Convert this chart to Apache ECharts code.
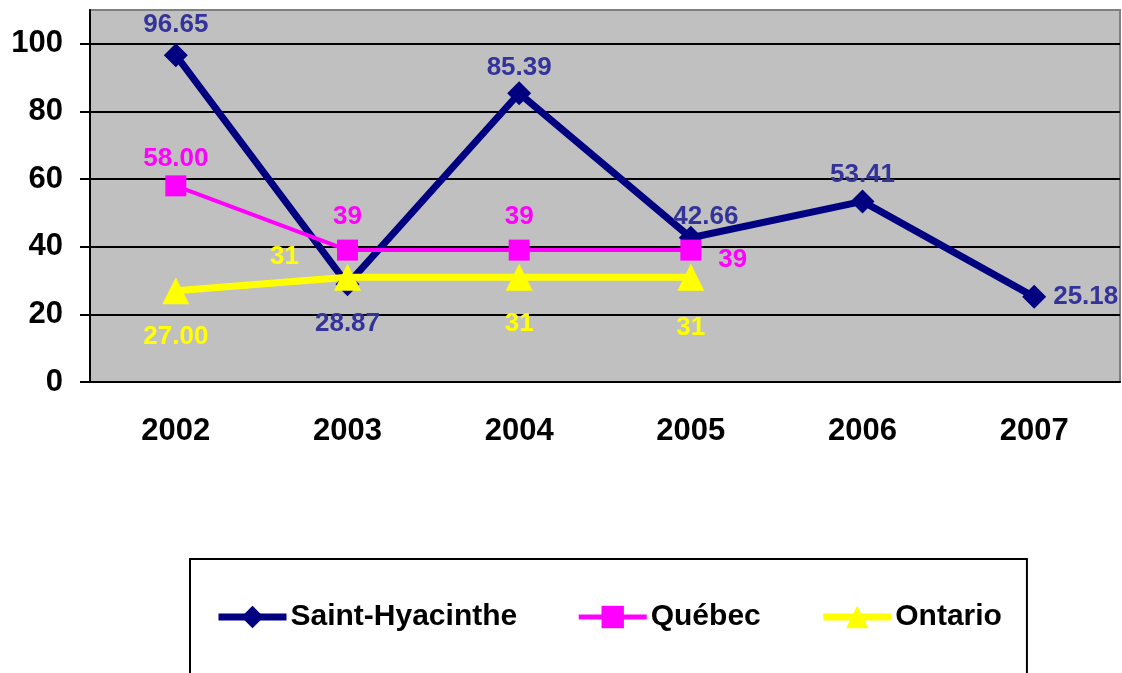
<!DOCTYPE html>
<html>
<head>
<meta charset="utf-8">
<script src="https://cdn.jsdelivr.net/npm/echarts@6/dist/echarts.min.js"></script>
<style>
html,body{margin:0;padding:0;background:#fff;}
#chart{width:1122px;height:673px;}
</style>
</head>
<body>
<div id="chart"></div>
<script>
const categories = ['2002', '2003', '2004', '2005', '2006', '2007'];
const stHyacintheValues = [96.65, 28.87, 85.39, 42.66, 53.41, 25.18];
const stHyacintheLabels = ['96.65', '28.87', '85.39', '42.66', '53.41', '25.18'];
const quebecValues = [58.00, 39, 39, 39];
const quebecLabels = ['58.00', '39', '39', '39'];
const ontarioValues = [27.00, 31, 31, 31];
const ontarioLabels = ['27.00', '31', '31', '31'];
const yTicks = [0, 20, 40, 60, 80, 100];

const FONT = "'Liberation Sans', Arial, sans-serif";

// label placement (layout only)
const stPlace = [
  {position: 'top', distance: 5},
  {position: 'bottom', distance: 14},
  {position: 'top', distance: 0},
  {position: 'top', distance: 0, offset: [15, 4]},
  {position: 'top', distance: 2},
  {position: 'right', distance: 7}
];
const qPlace = [
  {position: 'top', distance: 4},
  {position: 'top', distance: 10},
  {position: 'top', distance: 10},
  {position: 'right', distance: 17, offset: [0, 10]}
];
const oPlace = [
  {position: 'bottom', distance: 20},
  {position: 'left', distance: 5, offset: [-30, -20]},
  {position: 'bottom', distance: 20},
  {position: 'bottom', distance: 24}
];

function build(values, labels, place) {
  return values.map((v, i) => ({
    value: v,
    label: Object.assign({formatter: labels[i]}, place[i])
  }));
}

const chart = echarts.init(document.getElementById('chart'), null, {renderer: 'canvas'});

const labelBase = {show: true, fontFamily: FONT, fontWeight: 'bold', fontSize: 26};

chart.setOption({
  backgroundColor: '#ffffff',
  animation: false,
  grid: {
    left: 90, right: 2, top: 10, bottom: 291,
    show: true, backgroundColor: '#C0C0C0', borderColor: '#808080', borderWidth: 2
  },
  legend: {
    left: 190, top: 559,
    padding: [43, 25, 80, 25],
    itemGap: 59,
    itemWidth: 68, itemHeight: 28,
    borderColor: '#000', borderWidth: 2,
    textStyle: {fontFamily: FONT, fontWeight: 'bold', fontSize: 30, color: '#000', padding: [0, 0, 0, -1]},
    data: [
      {name: 'Saint-Hyacinthe', lineStyle: {width: 7}},
      {name: 'Québec', lineStyle: {width: 5}},
      {name: 'Ontario', lineStyle: {width: 7}}
    ]
  },
  xAxis: {
    type: 'category',
    data: categories,
    boundaryGap: true,
    axisLine: {lineStyle: {color: '#000', width: 2}},
    axisTick: {length: 11, lineStyle: {color: '#000', width: 2}},
    axisLabel: {margin: 34, fontFamily: FONT, fontWeight: 'bold', fontSize: 31, color: '#000'},
    splitLine: {show: false}
  },
  yAxis: {
    type: 'value',
    min: 0, max: 110, interval: 20,
    axisLine: {show: true, lineStyle: {color: '#000', width: 2}},
    axisTick: {show: true, length: 10, lineStyle: {color: '#000', width: 2}, customValues: yTicks},
    axisLabel: {margin: 27, fontFamily: FONT, fontWeight: 'bold', fontSize: 31, color: '#000', customValues: yTicks},
    splitLine: {show: true, lineStyle: {color: ['#000', '#000', '#000', '#000', '#000', '#000', '#808080'], width: 2}}
  },
  series: [
    {
      name: 'Saint-Hyacinthe', type: 'line',
      data: build(stHyacintheValues, stHyacintheLabels, stPlace),
      symbol: 'diamond', symbolSize: 24,
      lineStyle: {color: '#000080', width: 7},
      itemStyle: {color: '#000080'},
      label: Object.assign({color: '#333399'}, labelBase)
    },
    {
      name: 'Québec', type: 'line',
      data: build(quebecValues, quebecLabels, qPlace),
      symbol: 'rect', symbolSize: 21,
      lineStyle: {color: '#FF00FF', width: 4},
      itemStyle: {color: '#FF00FF'},
      label: Object.assign({color: '#FF00FF'}, labelBase)
    },
    {
      name: 'Ontario', type: 'line',
      data: build(ontarioValues, ontarioLabels, oPlace),
      symbol: 'triangle', symbolSize: 27,
      lineStyle: {color: '#FFFF00', width: 7},
      itemStyle: {color: '#FFFF00'},
      label: Object.assign({color: '#FFFF00'}, labelBase)
    }
  ]
});
</script>
</body>
</html>
